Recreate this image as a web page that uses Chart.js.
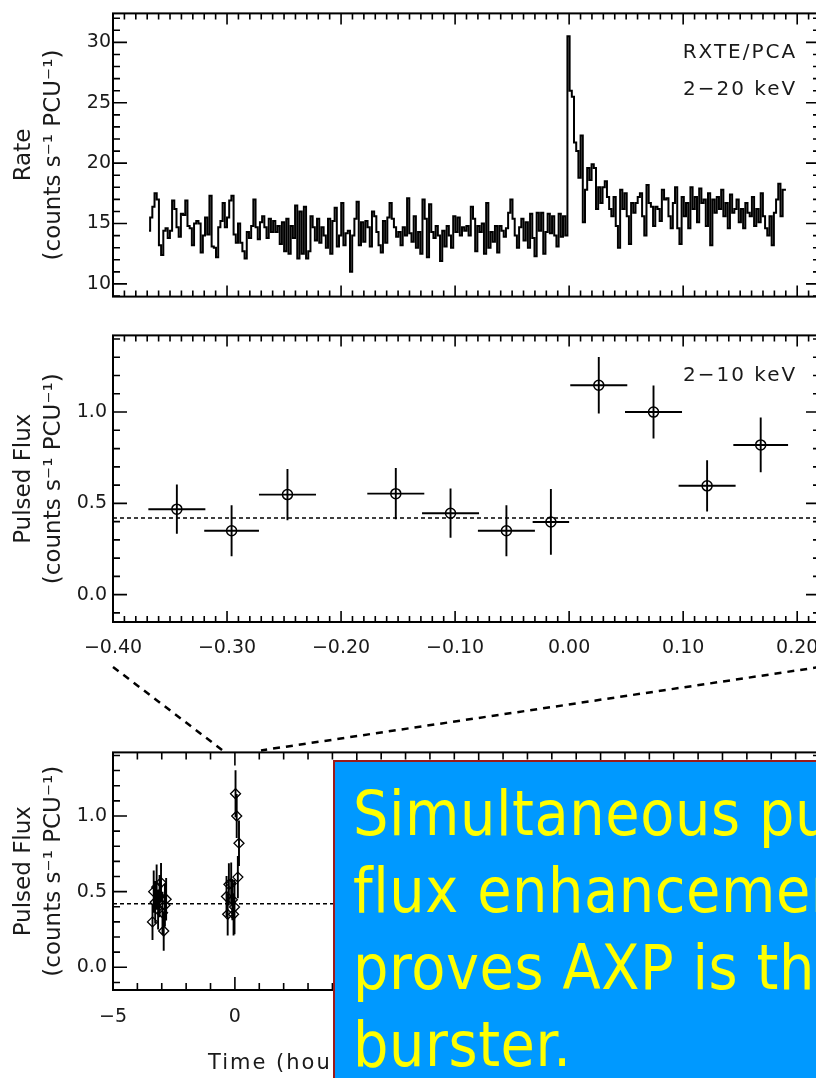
<!DOCTYPE html>
<html>
<head>
<meta charset="utf-8">
<script src="https://cdn.jsdelivr.net/npm/chart.js@4.4.1/dist/chart.umd.min.js"></script>
<style>
  html, body { margin: 0; padding: 0; background: #fff; overflow: hidden; }
  body { width: 816px; height: 1078px; position: relative; }
  canvas { position: absolute; left: 0; z-index: 1; }
  #rateChart { top: 0; }
  #zoomChart { top: 318px; }
  #fullChart { top: 735px; }
  #connectors { top: 0; z-index: 2; pointer-events: none; }
  #timeLabel {
    position: absolute; left: 208px; top: 1050px; z-index: 2;
    font: 21px "DejaVu Sans", sans-serif; letter-spacing: 2px; color: #1a1a1a;
    white-space: nowrap;
  }
  #note {
    position: absolute; left: 333px; top: 760px; z-index: 3;
    width: 560px; height: 400px;
    background: #0099ff; color: #ffff00;
    border-left: 2px solid #9c1a1a; border-top: 2px solid #9c1a1a;
    font-family: "DejaVu Sans Condensed", "DejaVu Sans", sans-serif;
    font-stretch: condensed; font-size: 62px; line-height: 77px; letter-spacing: 0.6px;
    padding: 13px 0 0 18px; white-space: nowrap; overflow: hidden;
  }
</style>
</head>
<body>
<canvas id="rateChart" width="840" height="310"></canvas>
<canvas id="zoomChart" width="840" height="340"></canvas>
<canvas id="fullChart" width="840" height="343"></canvas>
<canvas id="connectors" width="816" height="1078"></canvas>
<div id="timeLabel">Time (hours)</div>
<div id="note">Simultaneous pulsed<br>flux enhancement<br>proves AXP is the<br>burster.</div>
<script>
// 2-20 keV PCA count rate, read bin by bin off the light curve
const rateSeg1 = [14.4, 15.5, 16.4, 17.5, 17.0, 13.2, 12.4, 14.4, 14.6, 13.8, 14.4, 16.9, 16.2, 14.7, 13.9, 15.8, 15.7, 16.9, 14.8, 14.6,
  13.2, 15.0, 15.2, 15.0, 12.6, 14.0, 15.5, 14.1, 17.3, 13.1, 13.0, 12.2, 14.7, 15.2, 16.7, 14.7, 15.5, 16.9, 17.3, 14.1,
  13.4, 15.0, 13.4, 12.7, 12.1, 14.3, 13.8, 14.8, 17.0, 14.7, 13.7, 15.1, 15.6, 14.7, 13.8, 15.4, 14.3, 15.2, 14.3, 14.8,
  13.3, 15.1, 12.7, 15.4, 12.5, 14.8, 13.8, 16.5, 12.1, 16.0, 12.5, 16.4, 12.1];
const rateSeg2 = [12.7, 15.6, 14.7, 13.6, 15.4, 13.4, 14.7, 14.0, 13.0, 15.4, 12.5, 15.2, 16.3, 13.1, 14.0, 16.7, 13.2, 14.2, 14.4, 11.0,
  14.0, 15.4, 16.8, 13.2, 15.1, 13.5, 15.2, 14.7, 13.1, 16.0, 15.6, 14.3, 13.2, 12.6, 15.2, 13.4, 15.5, 16.7, 15.4, 14.7,
  13.9, 14.3, 13.2, 14.7, 14.0, 17.1, 14.2, 13.5, 15.6, 13.0, 14.3, 12.5, 17.0, 15.4, 12.2, 16.6, 14.3, 13.8, 14.8, 14.0,
  11.9, 14.4, 13.1, 14.8, 14.0, 13.0, 15.6, 14.3, 15.5, 14.0, 14.7, 14.4];
const rateSeg3 = [14.8, 14.0, 16.4, 15.4, 12.7, 14.8, 14.3, 15.0, 12.5, 16.7, 13.0, 14.3, 13.5, 14.8, 12.6, 14.8, 14.4, 13.9, 14.6, 15.9,
  17.0, 15.4, 14.0, 13.0, 14.7, 15.4, 13.6, 15.1, 13.0, 15.8, 13.8, 12.3, 15.9, 14.4, 15.9, 12.5, 14.3, 15.8, 14.2, 15.6,
  14.0, 13.1, 15.8, 13.9, 15.6, 14.0];
const rateSeg4 = [30.5, 26.0, 25.5, 21.7, 21.0, 18.8, 22.3, 15.1, 17.8, 19.6, 18.6, 19.9, 19.6, 16.2, 18.0, 16.7, 18.0, 18.5, 17.2, 16.2,
  15.6, 17.2, 14.8, 13.0, 17.8, 16.2, 17.5, 15.6, 13.3, 16.7, 15.9, 16.7, 17.2, 17.5, 15.6, 14.0, 18.2, 16.7, 16.4, 14.8,
  16.4, 16.2, 15.2, 17.8, 17.0, 17.1, 15.6, 14.6, 16.7, 18.0, 14.6, 13.3];
const rateSeg5 = [17.2, 15.6, 16.7, 14.6, 18.0, 16.2, 17.2, 15.1, 17.9, 16.7, 17.0, 14.8, 17.5, 13.2, 17.0, 15.9, 17.2, 16.2, 17.8, 15.6,
  16.7, 14.6, 17.4, 15.9, 16.2, 17.0, 15.1, 16.2, 14.6, 16.7, 15.9, 15.6, 17.2, 14.8, 16.2, 15.1, 17.5, 15.6, 14.6, 14.0,
  15.6, 13.2, 15.9, 17.0, 18.3, 15.6, 17.8, 17.8];
const binStart = -0.3684;   // hours, centre of first bin
const binWidth = 0.001926;  // hours

// pulsed flux around the burst (hours, counts/s/PCU)
const fluxTimes = [-0.344, -0.296, -0.247, -0.152, -0.104, -0.055, -0.016, 0.026, 0.074, 0.121, 0.168];
const fluxValues = [0.468, 0.35, 0.548, 0.553, 0.446, 0.35, 0.398, 1.147, 1.0, 0.596, 0.82];
const fluxTimeErr = [0.025, 0.024, 0.025, 0.025, 0.025, 0.025, 0.016, 0.025, 0.025, 0.025, 0.024];
const fluxErr = [0.135, 0.14, 0.14, 0.14, 0.135, 0.14, 0.18, 0.155, 0.145, 0.14, 0.15];

// earlier orbit, only in the bottom panel
const earlyTimes = [-3.38, -3.33, -3.27, -3.21, -3.15, -3.09, -3.03, -2.97, -2.92, -2.87, -2.82];
const earlyValues = [0.30, 0.50, 0.43, 0.53, 0.38, 0.47, 0.56, 0.36, 0.24, 0.41, 0.45];
const earlyErr = [0.12, 0.14, 0.14, 0.15, 0.13, 0.14, 0.13, 0.14, 0.13, 0.14, 0.14];

const meanFlux = 0.42;

// axes
const rateRange = [8.95, 32.4];
const fluxRange = [-0.15, 1.42];
const zoomRange = [-0.40, 0.22];
const fullRange = [-5, 24];
const rateYTicks = [10, 15, 20, 25, 30];
const fluxYTicks = [0.0, 0.5, 1.0];
const zoomXTicks = [-0.40, -0.30, -0.20, -0.10, 0.00, 0.10, 0.20];
const fullXTicks = [-5, 0, 5, 10, 15, 20];
const connectorEnds = [-0.5, 1.07];

const FONT = 'DejaVu Sans';
const INK = '#1a1a1a';

const rates = rateSeg1.concat(rateSeg2, rateSeg3, rateSeg4, rateSeg5);
const ratePoints = rates.map((r, i) => ({x: binStart + i * binWidth, y: r}));

function minus(s) {
  return s.replace('-', '\u2212');
}

function minorValues(min, max, step) {
  const out = [];
  for (let k = Math.ceil(min / step - 1e-6); k <= Math.floor(max / step + 1e-6); k++) {
    out.push(k * step);
  }
  return out;
}

// IDL-style box with inward ticks on all four sides
const idlFrame = {
  id: 'idlFrame',
  afterDatasetsDraw(chart, args, o) {
    const {ctx, chartArea: a, scales: {x, y}} = chart;
    ctx.save();
    ctx.strokeStyle = '#000';
    ctx.lineWidth = 1.6;
    ctx.beginPath();
    const xMaj = x.ticks.map(t => t.value);
    minorValues(x.min, x.max, o.xMinor).forEach(v => {
      const px = x.getPixelForValue(v);
      const len = xMaj.some(m => Math.abs(m - v) < o.xMinor / 10) ? o.xMajorLen : o.xMinorLen;
      ctx.moveTo(px, a.bottom);
      ctx.lineTo(px, a.bottom - len);
      ctx.moveTo(px, a.top);
      ctx.lineTo(px, a.top + len);
    });
    const yMaj = y.ticks.map(t => t.value);
    minorValues(y.min, y.max, o.yMinor).forEach(v => {
      const py = y.getPixelForValue(v);
      const len = yMaj.some(m => Math.abs(m - v) < o.yMinor / 10) ? o.yMajorLen : o.yMinorLen;
      ctx.moveTo(a.left, py);
      ctx.lineTo(a.left + len, py);
      ctx.moveTo(a.right, py);
      ctx.lineTo(a.right - len, py);
    });
    ctx.stroke();
    ctx.lineWidth = 2;
    ctx.strokeRect(a.left, a.top, a.right - a.left, a.bottom - a.top);

    (o.labels || []).forEach(l => {
      ctx.font = '20px "' + FONT + '"';
      ctx.letterSpacing = '2px';
      ctx.fillStyle = INK;
      ctx.textAlign = 'right';
      ctx.textBaseline = 'middle';
      ctx.fillText(l.text, x.getPixelForValue(l.x), y.getPixelForValue(l.y));
    });
    ctx.letterSpacing = '0px';
    ctx.restore();
  }
};

// error crosses from per-dataset arrays
const errorBars = {
  id: 'errorBars',
  afterDatasetsDraw(chart) {
    const {ctx, scales: {x, y}} = chart;
    ctx.save();
    ctx.strokeStyle = '#000';
    ctx.lineWidth = 1.9;
    chart.data.datasets.forEach(ds => {
      if (!ds.yErr) return;
      ctx.beginPath();
      ds.data.forEach((p, j) => {
        const px = x.getPixelForValue(p.x);
        const py = y.getPixelForValue(p.y);
        ctx.moveTo(px, y.getPixelForValue(p.y - ds.yErr[j]));
        ctx.lineTo(px, y.getPixelForValue(p.y + ds.yErr[j]));
        if (ds.xErr) {
          ctx.moveTo(x.getPixelForValue(p.x - ds.xErr[j]), py);
          ctx.lineTo(x.getPixelForValue(p.x + ds.xErr[j]), py);
        }
      });
      ctx.stroke();
    });
    ctx.restore();
  }
};

function yAxis(range, ticks, fmt, title, pad) {
  return {
    type: 'linear', min: range[0], max: range[1],
    afterBuildTicks: s => { s.ticks = ticks.map(v => ({value: v})); },
    afterFit: s => { s.width = 113; },
    grid: {display: false, drawTicks: false},
    border: {display: false},
    ticks: {callback: fmt, font: {family: FONT, size: 19}, color: INK, padding: pad},
    title: {display: true, text: title, color: INK,
      font: {family: FONT, size: 23, lineHeight: 1.3}, padding: {top: 9, bottom: 0}}
  };
}

function xAxis(range, ticks, fmt, height, showLabels, pad) {
  return {
    type: 'linear', min: range[0], max: range[1],
    afterBuildTicks: s => { s.ticks = ticks.map(v => ({value: v})); },
    afterFit: s => { s.height = height; },
    grid: {display: false, drawTicks: false},
    border: {display: false},
    ticks: {display: showLabels, callback: fmt, font: {family: FONT, size: 19}, color: INK,
      padding: pad, maxRotation: 0, autoSkip: false}
  };
}

const common = {
  responsive: false,
  animation: false,
  devicePixelRatio: 1,
  plugins: {legend: {display: false}, tooltip: {enabled: false}}
};

const countTitle = '(counts s\u207B\u00B9 PCU\u207B\u00B9)';

const rateChart = new Chart(document.getElementById('rateChart'), {
  type: 'line',
  data: {
    datasets: [{
      data: ratePoints, borderColor: '#000', borderWidth: 2,
      pointRadius: 0, stepped: 'middle', fill: false
    }]
  },
  options: {
    ...common,
    layout: {padding: {top: 9, right: 20, bottom: 0, left: 0}},
    scales: {
      x: xAxis(zoomRange, zoomXTicks, v => '', 7, false, 0),
      y: yAxis(rateRange, rateYTicks, v => String(v), ['Rate', countTitle], 2)
    },
    plugins: {
      ...common.plugins,
      idlFrame: {xMinor: 0.01, yMinor: 1, xMajorLen: 11, xMinorLen: 6, yMajorLen: 14, yMinorLen: 7,
        labels: [{text: 'RXTE/PCA', x: 0.20, y: 29.1}, {text: '2\u221220 keV', x: 0.20, y: 26.1}]}
    }
  },
  plugins: [idlFrame]
});

const zoomChart = new Chart(document.getElementById('zoomChart'), {
  type: 'line',
  data: {
    datasets: [{
      data: zoomRange.map(t => ({x: t, y: meanFlux})),
      borderColor: '#000', borderWidth: 1.5, borderDash: [4, 3], pointRadius: 0
    }, {
      data: fluxTimes.map((t, i) => ({x: t, y: fluxValues[i]})),
      xErr: fluxTimeErr, yErr: fluxErr,
      showLine: false, pointStyle: 'circle', pointRadius: 5,
      pointBorderColor: '#000', pointBackgroundColor: 'rgba(0,0,0,0)', pointBorderWidth: 1.5
    }]
  },
  options: {
    ...common,
    layout: {padding: {top: 10, right: 20, bottom: 0, left: 0}},
    scales: {
      x: xAxis(zoomRange, zoomXTicks, v => minus(v.toFixed(2)), 36, true, 15),
      y: yAxis(fluxRange, fluxYTicks, v => v.toFixed(1), ['Pulsed Flux', countTitle], 6)
    },
    plugins: {
      ...common.plugins,
      idlFrame: {xMinor: 0.01, yMinor: 0.1, xMajorLen: 11, xMinorLen: 6, yMajorLen: 14, yMinorLen: 7,
        labels: [{text: '2\u221210 keV', x: 0.20, y: 1.2}]}
    }
  },
  plugins: [errorBars, idlFrame]
});

const fullChart = new Chart(document.getElementById('fullChart'), {
  type: 'line',
  data: {
    datasets: [{
      data: fullRange.map(t => ({x: t, y: meanFlux})),
      borderColor: '#000', borderWidth: 1.5, borderDash: [4, 3], pointRadius: 0
    }, {
      data: earlyTimes.map((t, i) => ({x: t, y: earlyValues[i]})),
      yErr: earlyErr,
      showLine: false, pointStyle: 'rectRot', pointRadius: 5,
      pointBorderColor: '#000', pointBackgroundColor: 'rgba(0,0,0,0)', pointBorderWidth: 1.3
    }, {
      data: fluxTimes.map((t, i) => ({x: t, y: fluxValues[i]})),
      xErr: fluxTimeErr, yErr: fluxErr,
      showLine: false, pointStyle: 'rectRot', pointRadius: 5,
      pointBorderColor: '#000', pointBackgroundColor: 'rgba(0,0,0,0)', pointBorderWidth: 1.3
    }]
  },
  options: {
    ...common,
    layout: {padding: {top: 10, right: 20, bottom: 0, left: 0}},
    scales: {
      x: xAxis(fullRange, fullXTicks, v => minus(String(v)), 88, true, 16),
      y: yAxis(fluxRange, fluxYTicks, v => v.toFixed(1), ['Pulsed Flux', countTitle], 6)
    },
    plugins: {
      ...common.plugins,
      idlFrame: {xMinor: 1, yMinor: 0.1, xMajorLen: 13, xMinorLen: 7, yMajorLen: 14, yMinorLen: 7}
    }
  },
  plugins: [errorBars, idlFrame]
});

// dashed lines linking the zoomed window to the full time series
function drawConnectors() {
  const layer = document.getElementById('connectors');
  const ctx = layer.getContext('2d');
  const zr = zoomChart.canvas.getBoundingClientRect();
  const fr = fullChart.canvas.getBoundingClientRect();
  const y0 = zr.top + zoomChart.chartArea.bottom + 45;
  const y1 = fr.top + fullChart.chartArea.top - 2;
  ctx.strokeStyle = '#000';
  ctx.lineWidth = 2.5;
  ctx.setLineDash([7, 6]);
  [0, 1].forEach(i => {
    ctx.beginPath();
    ctx.moveTo(zr.left + zoomChart.scales.x.getPixelForValue(zoomRange[i]), y0);
    ctx.lineTo(fr.left + fullChart.scales.x.getPixelForValue(connectorEnds[i]), y1);
    ctx.stroke();
  });
}

drawConnectors();
</script>
</body>
</html>
